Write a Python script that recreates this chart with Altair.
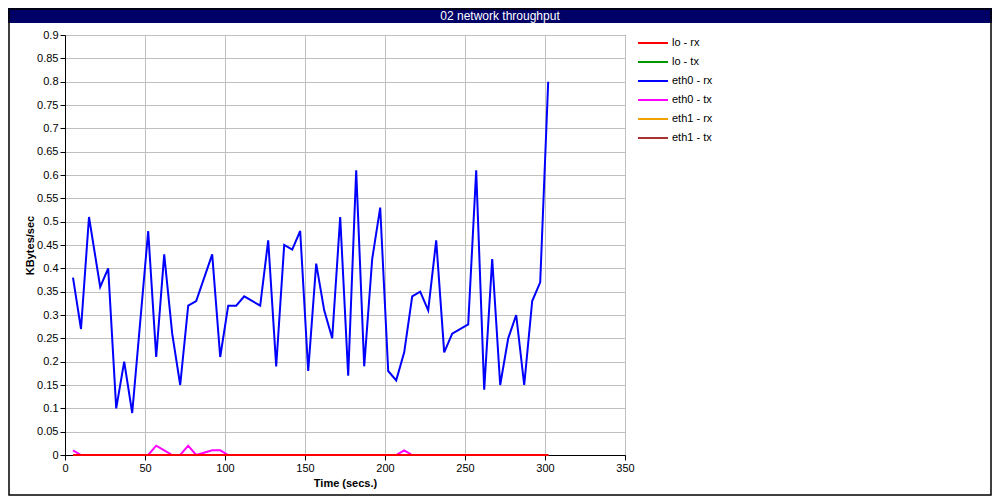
import altair as alt
import pandas as pd

TITLE = "02 network throughput"
X_TITLE = "Time (secs.)"
Y_TITLE = "KBytes/sec"

SERIES = ["lo - rx", "lo - tx", "eth0 - rx", "eth0 - tx", "eth1 - rx", "eth1 - tx"]
COLORS = ["#ff0000", "#009600", "#0000ff", "#ff00ff", "#f0a000", "#a83232"]

X_TICKS = [0, 50, 100, 150, 200, 250, 300, 350]
Y_TICKS = [0, 0.05, 0.1, 0.15, 0.2, 0.25, 0.3, 0.35, 0.4, 0.45, 0.5,
           0.55, 0.6, 0.65, 0.7, 0.75, 0.8, 0.85, 0.9]

TIME = [5, 10, 15, 22, 27, 32, 37, 42, 52, 57,
        62, 67, 72, 77, 82, 92, 97, 102, 107, 112,
        122, 127, 132, 137, 142, 147, 152, 157, 162, 167,
        172, 177, 182, 187, 192, 197, 202, 207, 212, 217,
        222, 227, 232, 237, 242, 252, 257, 262, 267, 272,
        277, 282, 287, 292, 297, 302]

LO_RX = [0, 0, 0, 0, 0, 0, 0, 0, 0, 0,
         0, 0, 0, 0, 0, 0, 0, 0, 0, 0,
         0, 0, 0, 0, 0, 0, 0, 0, 0, 0,
         0, 0, 0, 0, 0, 0, 0, 0, 0, 0,
         0, 0, 0, 0, 0, 0, 0, 0, 0, 0,
         0, 0, 0, 0, 0, 0]
LO_TX = [0, 0, 0, 0, 0, 0, 0, 0, 0, 0,
         0, 0, 0, 0, 0, 0, 0, 0, 0, 0,
         0, 0, 0, 0, 0, 0, 0, 0, 0, 0,
         0, 0, 0, 0, 0, 0, 0, 0, 0, 0,
         0, 0, 0, 0, 0, 0, 0, 0, 0, 0,
         0, 0, 0, 0, 0, 0]
ETH0_RX = [0.38, 0.27, 0.51, 0.36, 0.40, 0.10, 0.20, 0.09, 0.48, 0.21,
           0.43, 0.26, 0.15, 0.32, 0.33, 0.43, 0.21, 0.32, 0.32, 0.34,
           0.32, 0.46, 0.19, 0.45, 0.44, 0.48, 0.18, 0.41, 0.31, 0.25,
           0.51, 0.17, 0.61, 0.19, 0.42, 0.53, 0.18, 0.16, 0.22, 0.34,
           0.35, 0.31, 0.46, 0.22, 0.26, 0.28, 0.61, 0.14, 0.42, 0.15,
           0.25, 0.30, 0.15, 0.33, 0.37, 0.80]
ETH0_TX = [0.01, 0, 0, 0, 0, 0, 0, 0, 0, 0.02,
           0.01, 0, 0, 0.02, 0, 0.01, 0.01, 0, 0, 0,
           0, 0, 0, 0, 0, 0, 0, 0, 0, 0,
           0, 0, 0, 0, 0, 0, 0, 0, 0.01, 0,
           0, 0, 0, 0, 0, 0, 0, 0, 0, 0,
           0, 0, 0, 0, 0, 0]
ETH1_RX = [0, 0, 0, 0, 0, 0, 0, 0, 0, 0,
           0, 0, 0, 0, 0, 0, 0, 0, 0, 0,
           0, 0, 0, 0, 0, 0, 0, 0, 0, 0,
           0, 0, 0, 0, 0, 0, 0, 0, 0, 0,
           0, 0, 0, 0, 0, 0, 0, 0, 0, 0,
           0, 0, 0, 0, 0, 0]
ETH1_TX = [0, 0, 0, 0, 0, 0, 0, 0, 0, 0,
           0, 0, 0, 0, 0, 0, 0, 0, 0, 0,
           0, 0, 0, 0, 0, 0, 0, 0, 0, 0,
           0, 0, 0, 0, 0, 0, 0, 0, 0, 0,
           0, 0, 0, 0, 0, 0, 0, 0, 0, 0,
           0, 0, 0, 0, 0, 0]

VALUES = [LO_RX, LO_TX, ETH0_RX, ETH0_TX, ETH1_RX, ETH1_TX]

rows = []
for name, vals in zip(SERIES, VALUES):
    for t, v in zip(TIME, vals):
        rows.append({"series": name, "time": t, "value": v})
df = pd.DataFrame(rows)

FONT = "Liberation Sans"
NAVY = "#000066"
GRID = "#c0c0c0"

x_enc = alt.X(
    "time:Q",
    scale=alt.Scale(domain=[0, 350], nice=False, zero=False),
    axis=alt.Axis(values=X_TICKS, title=X_TITLE, grid=True, gridColor=GRID,
                  gridOpacity=1, domainColor="black", tickColor="black",
                  tickSize=5, labelFlush=False, labelOverlap=False,
                  labelPadding=2, labelFont=FONT, labelFontSize=11,
                  labelColor="black", titleFont=FONT, titleFontSize=11,
                  titleFontWeight="bold", titleColor="black", titleY=28,
                  titleBaseline="middle"),
)
y_enc = alt.Y(
    "value:Q",
    scale=alt.Scale(domain=[0, 0.9], nice=False),
    axis=alt.Axis(values=Y_TICKS, format=".2~f", title=Y_TITLE, grid=True,
                  gridColor=GRID, gridOpacity=1, domainColor="black",
                  tickColor="black", tickSize=5, labelFlush=False,
                  labelOverlap=False, labelPadding=2, labelFont=FONT,
                  labelFontSize=11, labelColor="black", titleFont=FONT,
                  titleFontSize=11, titleFontWeight="bold", titleColor="black",
                  titleX=-35, titleY=210, titleAngle=270, titleAlign="center",
                  titleBaseline="middle"),
)
color_enc = alt.Color(
    "series:N",
    scale=alt.Scale(domain=SERIES, range=COLORS),
    sort=SERIES,
    legend=alt.Legend(title=None, orient="none", legendX=582, legendY=2,
                      symbolType="M-3,0H3", symbolSize=100,
                      symbolStrokeWidth=2, labelOffset=13, rowPadding=8,
                      padding=0, labelFont=FONT, labelFontSize=11,
                      labelColor="black"),
)

others = alt.Chart(df).transform_filter(
    alt.datum.series != SERIES[0]
).mark_line(strokeWidth=2, clip=False).encode(
    x=x_enc, y=y_enc, color=color_enc, detail="series:N"
)
red = alt.Chart(df).transform_filter(
    alt.datum.series == SERIES[0]
).mark_line(strokeWidth=2, clip=False).encode(
    x=x_enc, y=y_enc, color=color_enc
)

tdf = pd.DataFrame({"t": [TITLE]})
title_bar = alt.Chart(tdf).mark_rect(color=NAVY).encode(
    x=alt.value(-57), x2=alt.value(927), y=alt.value(-27), y2=alt.value(-12)
)
title_text = alt.Chart(tdf).mark_text(
    color="white", font=FONT, fontSize=12, align="center", baseline="middle"
).encode(text="t:N", x=alt.value(435), y=alt.value(-19.5))
border = alt.Chart(tdf).mark_rect(
    fillOpacity=0, stroke="black", strokeWidth=1.5
).encode(
    x=alt.value(-56), x2=alt.value(926), y=alt.value(-26), y2=alt.value(460)
)

chart = alt.layer(title_bar, title_text, border, others, red).properties(
    width=560, height=420,
    padding={"left": 57, "top": 27, "right": 367, "bottom": 41},
    autosize=alt.AutoSizeParams(type="none"),
    background="white",
).configure_view(stroke="black", strokeWidth=1)

chart.save("out.html", embed_options={"renderer": "svg", "actions": False})
